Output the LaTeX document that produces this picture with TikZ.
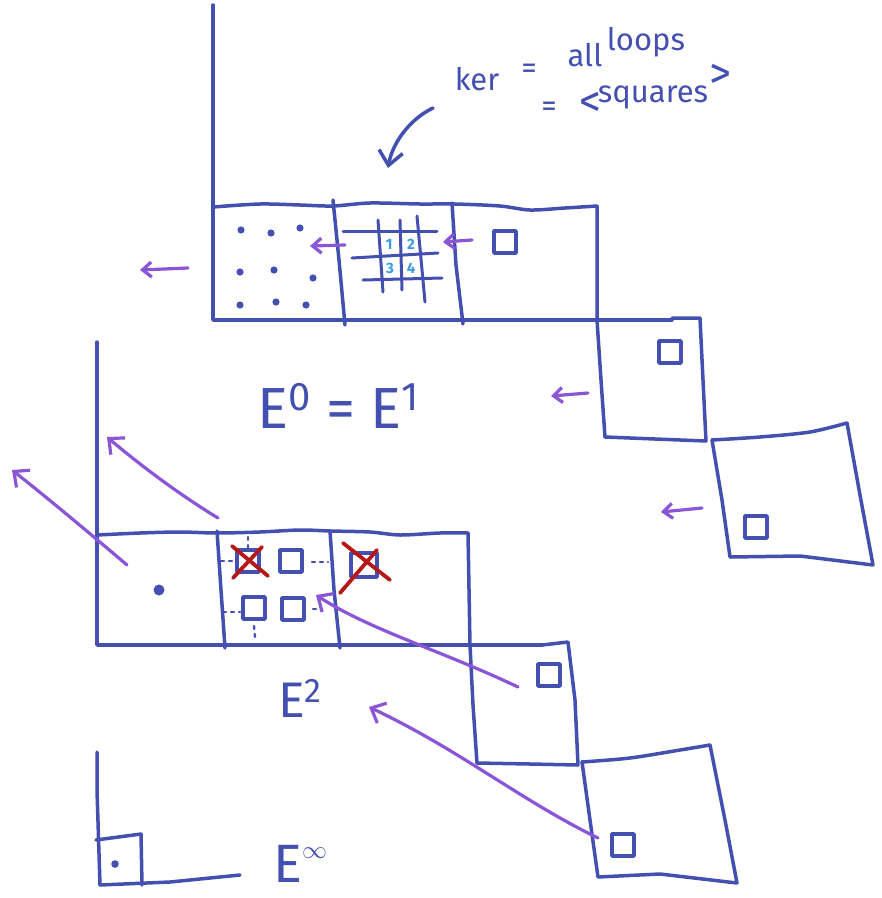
\documentclass[tikz,border=0pt]{standalone}
\usepackage{fontspec}
\setmainfont{Fira Sans}
\usetikzlibrary{arrows.meta}
\definecolor{ink}{HTML}{4450B0}
\definecolor{pur}{HTML}{8A55D6}
\definecolor{redx}{HTML}{B41818}
\definecolor{num}{HTML}{3A9BE0}
\begin{document}
\begin{tikzpicture}[x=1pt,y=-1pt,line cap=round,line join=round,
  inkline/.style={draw=ink,line width=3.5pt},
  gridline/.style={draw=ink,line width=3pt},
  sqr/.style={draw=ink,line width=3.6pt,minimum width=22pt,minimum height=22pt,inner sep=0pt},
  arr/.style={draw=pur,line width=3.2pt,-{Straight Barb[length=9pt,width=15pt,line width=3.2pt]}},
  bigarr/.style={draw=pur,line width=3.2pt,-{Straight Barb[length=12pt,width=22pt,line width=3.2pt]}},
  inkarr/.style={draw=ink,line width=3.5pt,-{Straight Barb[length=14pt,width=24pt,line width=3.5pt]}},
  cross/.style={draw=redx,line width=3.8pt},
  dotmark/.style={fill=ink,draw=none},
  ticks/.style={draw=ink,line width=2.4pt,dash pattern=on 3pt off 5pt},
  lbl/.style={text=ink,inner sep=0pt},
  note/.style={text=ink,inner sep=0pt,anchor=base,font=\fontsize{31}{31}\selectfont},
  bracket/.style={text=ink,inner sep=0pt,anchor=base,font=\fontsize{44}{44}\selectfont},
  numl/.style={text=num,font=\bfseries\fontsize{15}{15}\selectfont,inner sep=0pt}]
\useasboundingbox (0,0) rectangle (882,898);

% ================= top chart (E^0 = E^1) =================
\draw[inkline] (213,5) -- (213,320) -- (672,320);
\draw[inkline] plot[smooth] coordinates {(213,207) (260,204) (300,205) (333,206) (370,203) (420,204) (455,204) (500,206) (530,210) (565,208) (597,206)};
\draw[inkline] (333,200) -- (339,260) -- (345,325);
\draw[inkline] (452,203) -- (456,265) -- (463,324);
\draw[inkline] (597,206) -- (597,320) -- (601,380) -- (605,437);
% box 2
\draw[inkline] (605,437) -- (655,439) -- (706,441) -- (703,380) -- (700,318) -- (672,318);
% box 3
\draw[inkline] plot[smooth] coordinates {(712,440) (760,437) (810,432) (847,423)};
\draw[inkline] (712,440) -- (722,500) -- (730,557) -- (800,556) -- (873,565) -- (860,495) -- (847,423);

% dots of the first cell
\foreach \p in {(241,230),(271,233),(300,228),(240,272),(274,270),(313,278),(240,305),(276,302),(306,305)}
  \fill[dotmark] \p circle (3.6pt);

% grid
\draw[gridline] (343,231) -- (437,231);
\draw[gridline] (352,258) -- (438,253);
\draw[gridline] (363,280) -- (442,278);
\draw[gridline] (378,220) -- (383,292);
\draw[gridline] (400,220) -- (402,290);
\draw[gridline] (417,216) -- (425,302);
\node[numl] (n1) at (389,244) {1};
\node[numl] (n2) at (411,244) {2};
\node[numl] (n3) at (390,268) {3};
\node[numl] (n4) at (411,268) {4};

% small squares
\node[sqr] (sqA) at (505,242) {};
\node[sqr] (sqB) at (670,352) {};
\node[sqr] (sqC) at (756,527) {};

% small purple arrows
\coordinate (a1s) at (345,245); \coordinate (a1e) at (310,246);
\coordinate (a2s) at (472,240); \coordinate (a2e) at (443,242);
\coordinate (a3s) at (188,268); \coordinate (a3e) at (140,270);
\coordinate (a4s) at (588,393); \coordinate (a4e) at (551,396);
\coordinate (a5s) at (702,508); \coordinate (a5e) at (661,512);
\draw[arr] (a1s) -- (a1e);
\draw[arr] (a2s) -- (a2e);
\draw[arr] (a3s) -- (a3e);
\draw[arr] (a4s) -- (a4e);
\draw[arr] (a5s) -- (a5e);

% annotation (handwritten words drifting upwards)
\node[note] (w1) at (477,90) {ker};
\node[note] (w2) at (529,78) {=};
\node[note] (w3) at (585,66) {all};
\node[note] (w4) at (646,50) {loops};
\node[note] (w5) at (549,116) {=};
\node[bracket] (w6) at (590,116) {<};
\node[note] (w7) at (653,102) {squares};
\node[bracket] (w8) at (720,88) {>};
\coordinate (kas) at (433,108);
\coordinate (kae) at (388,168);
\draw[inkarr] (kas) .. controls (408,120) and (392,145) .. (kae);

\node[lbl,font=\fontsize{58}{58}\selectfont] (e01) at (338,406)
  {E\raisebox{0.3em}{\fontsize{40}{40}\selectfont 0} = E\raisebox{0.3em}{\fontsize{40}{40}\selectfont 1}};

% ================= middle chart (E^2) =================
\draw[inkline] (97,342) -- (97,645) -- (542,645);
\draw[inkline] plot[smooth] coordinates {(97,535) (140,533) (180,532) (217,533) (260,532) (300,530) (330,531) (370,532) (400,535) (440,533) (468,533)};
\draw[inkline] (217,531) -- (221,590) -- (225,648);
\draw[inkline] (330,531) -- (334,590) -- (340,648);
\draw[inkline] (468,533) -- (470,645) -- (473,705) -- (477,763);
% box A
\draw[inkline] (477,763) -- (530,764) -- (578,765) -- (575,700) -- (568,642) -- (542,645);
% box B
\draw[inkline] plot[smooth] coordinates {(582,762) (630,758) (680,750) (710,745)};
\draw[inkline] (582,762) -- (590,820) -- (598,877) -- (660,874) -- (737,883) -- (725,820) -- (710,745);

\fill[dotmark] (159,590) circle (5.5pt);

\node[sqr] (c1) at (248,561) {};
\node[sqr] (c2) at (291,561) {};
\node[sqr] (c3) at (254,608) {};
\node[sqr] (c4) at (293,609) {};
\node[sqr,minimum width=26pt,minimum height=24pt] (c5) at (364,565) {};
\node[sqr] (sqD) at (549,675) {};
\node[sqr] (sqE) at (623,845) {};

\draw[ticks] (221,561) -- (234,561);
\draw[ticks] (248,537) -- (248,549);
\draw[ticks] (312,562) -- (328,562);
\draw[ticks] (223,612) -- (240,612);
\draw[ticks] (254,626) -- (255,637);
\draw[ticks] (313,609) -- (322,609);

\draw[cross] (232,546) -- (268,576);
\draw[cross] (233,578) -- (262,547);
\draw[cross] (343,543) -- (390,580);
\draw[cross] (340,593) -- (377,550);

% long purple arrows
\coordinate (b1s) at (127,565); \coordinate (b1e) at (12,470);
\coordinate (b2s) at (218,518); \coordinate (b2e) at (107,437);
\coordinate (b3s) at (518,687); \coordinate (b3e) at (316,595);
\coordinate (b4s) at (598,838); \coordinate (b4e) at (369,707);
\draw[bigarr] (b1s) .. controls (80,525) and (40,492) .. (b1e);
\draw[bigarr] (b2s) .. controls (180,495) and (140,465) .. (b2e);
\draw[bigarr] (b3s) .. controls (440,650) and (370,630) .. (b3e);
\draw[bigarr] (b4s) .. controls (520,800) and (460,750) .. (b4e);

\node[lbl,font=\fontsize{50}{50}\selectfont] (e2) at (300,698)
  {E\raisebox{0.3em}{\fontsize{34}{34}\selectfont 2}};

% ================= bottom (E^infty) =================
\draw[inkline] (97,752) -- (97,790) -- (100,885) -- (170,882) -- (240,875);
\draw[inkline] (96,840) -- (141,834) -- (142,885);
\fill[dotmark] (115,864) circle (3.8pt);
\node[lbl,font=\fontsize{54}{54}\selectfont] (einf) at (300,864)
  {E\raisebox{0.45em}{\fontsize{40}{40}\selectfont$\infty$}};

\end{tikzpicture}
\end{document}
